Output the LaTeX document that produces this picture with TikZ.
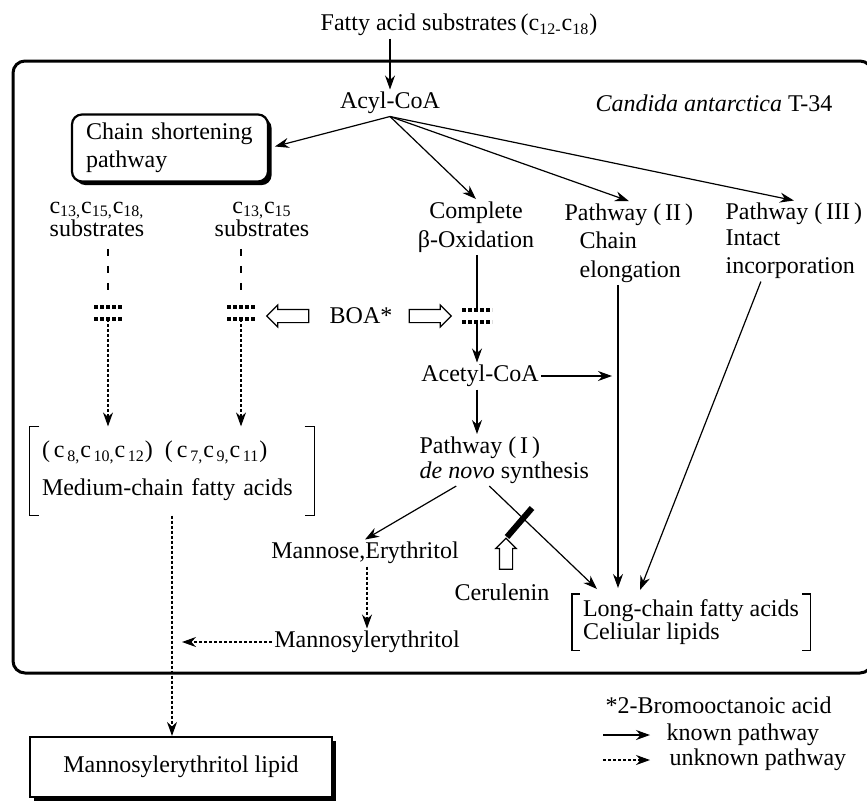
\documentclass[tikz,border=0pt]{standalone}
\usepackage{fontspec}
\setmainfont{Liberation Serif}
\usetikzlibrary{arrows.meta,shapes.arrows,shadows}

\begin{document}
\begin{tikzpicture}[x=0.5pt,y=-0.5pt,>={Stealth[length=7pt,width=5pt]},line width=0.6pt,
    every node/.style={font=\fontsize{12}{13}\selectfont,inner sep=1pt},
    path box/.style={draw,line width=1.1pt,fill=white,drop shadow={shadow xshift=1.8pt,shadow yshift=-1.8pt,opacity=1,fill=black}},
    unknown/.style={->,dash pattern=on 1.5pt off 1pt},
    subdash/.style={line width=1.3pt,dash pattern=on 3.5pt off 5pt},
    hollow/.style={draw,single arrow,fill=white,line width=0.6pt,inner sep=3pt,single arrow head extend=2.2pt,minimum height=21pt},
    blockrow/.style={line width=2.2pt,dash pattern=on 2pt off 1pt},
    inhibit/.style={line width=3pt}]
    \useasboundingbox (0,0) rectangle (867,804);

    % cell frame
    \draw[line width=1.5pt,rounded corners=6pt] (13,61) rectangle (872,673);

    \node[] (title) at (459,25) {Fatty acid substrates\,(c\textsubscript{12-}c\textsubscript{18})};
    \node[] (acyl) at (390,103) {Acyl-CoA};
    \node[] (candida) at (714,103) {\textit{Candida antarctica} T-34};

    \node[path box,rounded corners=5pt,text width=84pt,inner xsep=7pt,minimum height=33.5pt,align=left] (chainbox) at (170,148) {Chain shortening\\[1pt]pathway};
    \node[align=center] (sub1) at (97,219) {c\textsubscript{13,}c\textsubscript{15,}c\textsubscript{18,}\\[-1.5pt]substrates};
    \node[align=center] (sub2) at (262,219) {c\textsubscript{13,}c\textsubscript{15}\\[-1.5pt]substrates};
    \node[align=center] (complete) at (476,227) {Complete\\[1.5pt]β-Oxidation};
    \node[align=left,anchor=west] (pw2) at (562,243) {Pathway (\,II\,)\\[1.2pt]\hspace*{7.5pt}Chain\\[1.2pt]\hspace*{7.5pt}elongation};
    \node[align=left,anchor=west] (pw3) at (723,241) {Pathway (\,III\,)\\Intact\\[1pt]incorporation};

    % BOA blocks
    \coordinate (blkL) at (108,313);
    \coordinate (blkR) at (241,313);
    \coordinate (blkO) at (477,316);
    \foreach \bx/\by/\bw in {108/313/14, 241/313/14, 477/316/15} {
        \draw[blockrow] (\bx-\bw,\by-6) -- (\bx+\bw,\by-6);
        \draw[blockrow] (\bx-\bw,\by+6) -- (\bx+\bw,\by+6);
    }
    \node[] (boa) at (361,316) {BOA*};
    \node[hollow,shape border rotate=180] (boaL) at (291,316) {};
    \node[hollow] (boaR) at (427,316) {};

    \node[] (acetyl) at (480,376) {Acetyl-CoA};
    \node[align=left,anchor=west] (pw1) at (417,460) {Pathway (\,I\,)\\[-0.5pt]\textit{de novo} synthesis};

    \node[text width=130pt,inner xsep=6pt,minimum height=44pt,align=left] (medacid) at (172,471)
        {(\,c\textsubscript{\,8,}c\textsubscript{\,10,}c\textsubscript{\,12})\enspace(\,c\textsubscript{\,7,}c\textsubscript{\,9,}c\textsubscript{\,11})\\[6pt]Medium-chain fatty acids};
    \node[minimum width=118.5pt,minimum height=27.5pt,align=left] (longacid) at (691,622)
        {Long-chain fatty acids\\[-1.5pt]Celiular lipids};
    \foreach \n/\a in {medacid/5pt,longacid/4pt} {
        \draw ([xshift=\a]\n.north west) -- (\n.north west) -- (\n.south west) -- ([xshift=\a]\n.south west);
        \draw ([xshift=-\a]\n.north east) -- (\n.north east) -- (\n.south east) -- ([xshift=-\a]\n.south east);
    }

    \node[] (mannose) at (365,553) {Mannose,Erythritol};
    \node[] (mannosyl) at (367,642) {Mannosylerythritol};
    \node[hollow,shape border rotate=90,minimum height=15.5pt,single arrow head extend=1.8pt] (cerarrow) at (506,557) {};
    \node[] (cerulenin) at (502,592) {Cerulenin};
    \node[path box,minimum width=151pt,minimum height=30pt] (mlip) at (181,767) {Mannosylerythritol lipid};

    \coordinate (lc1) at (597,589);
    \coordinate (lc2) at (618,588);
    \coordinate (lc3) at (640,590);

    % legend
    \node[anchor=west] (bromo) at (603,705) {*2-Bromooctanoic acid};
    \coordinate (kn1) at (603,735);
    \coordinate (kn2) at (650,735);
    \coordinate (un1) at (603,760);
    \coordinate (un2) at (650,760);
    \node[anchor=west] (known) at (664,735) {known pathway};
    \node[anchor=west] (unknown) at (667,760) {unknown pathway};

    \path[->]
        (title.south -| acyl) edge (acyl.north)
        (acyl.south) edge[shorten >=3pt] (chainbox.east)
        (acyl.south) edge (complete.north)
        (acyl.south) edge (pw2.north)
        (acyl.south) edge (pw3.north)
        ([yshift=-3pt]blkO) edge (acetyl.north -| blkO)
        (acetyl.east) edge[shorten >=3pt] (acetyl.east -| lc2)
        (acetyl.south -| blkO) edge (pw1.north -| blkO)
        ([xshift=-24pt]pw1.south) edge (mannose.north)
        ([xshift=-7.5pt]pw1.south) edge (lc1)
        (pw2.south -| lc2) edge (lc2)
        ([xshift=-16.5pt]pw3.south) edge (lc3)
        (kn1) edge (kn2)
    ;
    \draw (complete.south -| blkO) -- ([yshift=3pt]blkO);
    \draw[inhibit] (507,537) -- (532,508);

    \draw[subdash] ([yshift=-5pt]sub1.south -| blkL) -- ([yshift=10pt]blkL);
    \draw[subdash] ([yshift=-5pt]sub2.south -| blkR) -- ([yshift=10pt]blkR);

    \path[unknown]
        ([yshift=-3pt]blkL) edge (medacid.north -| blkL)
        ([yshift=-3pt]blkR) edge (medacid.north -| blkR)
        (mannose.south -| mannosyl) edge (mannosyl.north)
        (mannosyl.west) edge[shorten >=5pt] (mannosyl.west -| medacid.south)
        (medacid.south) edge (mlip.north -| medacid.south)
        (un1) edge (un2)
    ;
\end{tikzpicture}
\end{document}
